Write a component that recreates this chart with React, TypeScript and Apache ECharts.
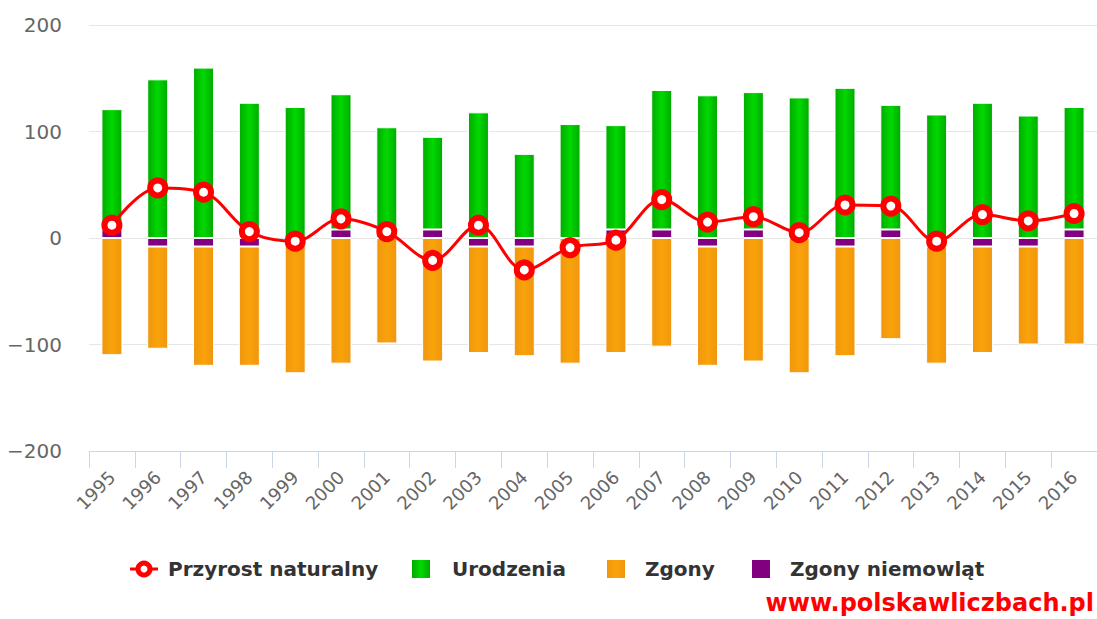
import React, { useEffect, useRef } from "react";
import * as echarts from "echarts";

const years = ["1995","1996","1997","1998","1999","2000","2001","2002","2003","2004","2005","2006","2007","2008","2009","2010","2011","2012","2013","2014","2015","2016"];
// bar top (births incl. stacked infant segment)
const births = [121, 149, 160, 127, 123, 135, 104, 95, 118, 79, 107, 106, 139, 134, 137, 132, 141, 125, 116, 127, 115, 123];
// bar bottom (deaths, magnitude)
const deaths = [110, 104, 120, 120, 127, 118, 99, 116, 108, 111, 118, 108, 102, 120, 116, 127, 111, 95, 118, 108, 100, 100];
// infant deaths segment (signed, drawn at the zero line)
const infant = [8, -8, -8, -8, 0, 8, 0, 8, -8, -8, 0, 8, 8, -8, 8, 0, -8, 8, -8, -8, -8, 8];
// natural growth
const growth = [12, 47, 43, 6, -3, 18, 6, -21, 12, -30, -9, -2, 36, 15, 20, 5, 31, 30, -3, 22, 16, 23];
const yTicks = [-200, -100, 0, 100, 200];

const FONT = "'DejaVu Sans', sans-serif";

export default function App() {
  const ref = useRef<HTMLDivElement>(null);
  useEffect(() => {
    if (!ref.current) return;
    const chart = echarts.init(ref.current, null, { renderer: "svg" });
    const greenData = births.map((b, i) => b - Math.max(infant[i], 0));
    const orangeData = deaths.map((d, i) => -(d - Math.max(-infant[i], 0)));
    const hGrad = (edge: string, mid: string) =>
      new echarts.graphic.LinearGradient(0, 0, 1, 0, [
        { offset: 0, color: edge },
        { offset: 0.5, color: mid },
        { offset: 1, color: edge },
      ]);
    const legendY = 569;
    chart.setOption({
      animation: false,
      textStyle: { fontFamily: FONT },
      grid: { left: 89, width: 1012, top: 25, height: 426, containLabel: false },
      xAxis: {
        type: "category",
        data: years,
        boundaryGap: true,
        axisLine: { show: true, onZero: false, lineStyle: { color: "#ccd6eb", width: 1 } },
        axisTick: { show: true, alignWithLabel: false, interval: 0, length: 17, lineStyle: { color: "#ccd6eb", width: 1 } },
        axisLabel: { interval: 0, rotate: 45, color: "#666666", fontSize: 18, margin: 23, fontFamily: FONT },
      },
      yAxis: {
        type: "value",
        min: yTicks[0],
        max: yTicks[yTicks.length - 1],
        interval: 100,
        axisLine: { show: false },
        axisTick: { show: false },
        splitLine: { lineStyle: { color: "#e6e6e6", width: 1 } },
        axisLabel: {
          color: "#666666",
          fontSize: 20,
          margin: 27,
          fontFamily: FONT,
          formatter: (v: number) => String(v).replace("-", "\u2212"),
        },
      },
      series: [
        {
          name: "Zgony niemowląt",
          type: "bar",
          stack: "a",
          barWidth: 21,
          data: infant,
          itemStyle: { color: "#800080", borderColor: "#ffffff", borderWidth: 1 },
        },
        {
          name: "Urodzenia",
          type: "bar",
          stack: "a",
          barWidth: 21,
          data: greenData,
          itemStyle: { color: hGrad("#00ab00", "#00d800"), borderColor: "#ffffff", borderWidth: 1 },
        },
        {
          name: "Zgony",
          type: "bar",
          stack: "a",
          barWidth: 21,
          data: orangeData,
          itemStyle: { color: hGrad("#f0960f", "#f9a30a"), borderColor: "#ffffff", borderWidth: 1 },
        },
        {
          name: "Przyrost naturalny",
          type: "line",
          data: growth,
          smooth: 0.35,
          z: 5,
          symbol: "circle",
          symbolSize: 15,
          lineStyle: { color: "#ff0000", width: 3 },
          itemStyle: { color: "#ffffff", borderColor: "#ff0000", borderWidth: 6 },
        },
      ],
      graphic: [
        { type: "line", shape: { x1: 130, y1: legendY, x2: 158, y2: legendY }, style: { stroke: "#ff0000", lineWidth: 3 } },
        { type: "circle", shape: { cx: 144, cy: legendY, r: 6 }, style: { fill: "#ffffff", stroke: "#ff0000", lineWidth: 5 } },
        { type: "text", x: 168, y: legendY, style: { text: "Przyrost naturalny", fill: "#333333", font: `bold 20px ${FONT}`, verticalAlign: "middle" } },
        { type: "rect", shape: { x: 412, y: legendY - 9, width: 18, height: 18 }, style: { fill: hGrad("#00ab00", "#00d800") } },
        { type: "text", x: 452, y: legendY, style: { text: "Urodzenia", fill: "#333333", font: `bold 20px ${FONT}`, verticalAlign: "middle" } },
        { type: "rect", shape: { x: 607, y: legendY - 9, width: 18, height: 18 }, style: { fill: hGrad("#f0960f", "#f9a30a") } },
        { type: "text", x: 645, y: legendY, style: { text: "Zgony", fill: "#333333", font: `bold 20px ${FONT}`, verticalAlign: "middle" } },
        { type: "rect", shape: { x: 752, y: legendY - 9, width: 18, height: 18 }, style: { fill: "#800080" } },
        { type: "text", x: 790, y: legendY, style: { text: "Zgony niemowląt", fill: "#333333", font: `bold 20px ${FONT}`, verticalAlign: "middle" } },
        { type: "text", x: 1094, y: 603, style: { text: "www.polskawliczbach.pl", fill: "#ff0000", font: `bold 24px ${FONT}`, verticalAlign: "middle", align: "right" } },
      ],
    });
    return () => chart.dispose();
  }, []);
  return (
    <div
      ref={ref}
      style={{ position: "absolute", left: 0, top: 0, width: 1097, height: 619, background: "#ffffff" }}
    />
  );
}
